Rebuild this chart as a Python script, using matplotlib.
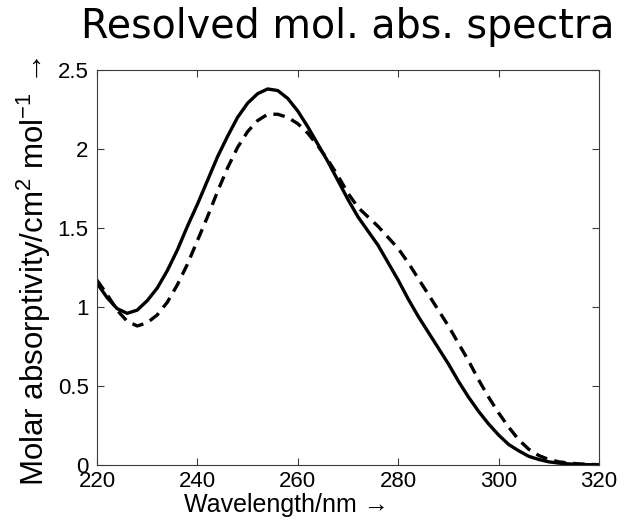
import numpy as np
import matplotlib
matplotlib.use("Agg")
import matplotlib.pyplot as plt

# wavelength grid (nm) and the two resolved spectra
wavelength = np.arange(220, 322, 2)
spec_solid = [1.15, 1.06, 0.99, 0.96, 0.98, 1.04, 1.12, 1.23, 1.36, 1.51,
              1.65, 1.80, 1.95, 2.08, 2.20, 2.29, 2.35, 2.38, 2.37, 2.32,
              2.24, 2.14, 2.03, 1.92, 1.80, 1.68, 1.57, 1.48, 1.39, 1.28,
              1.17, 1.05, 0.94, 0.84, 0.74, 0.64, 0.53, 0.43, 0.34, 0.26,
              0.19, 0.13, 0.09, 0.055, 0.035, 0.02, 0.012, 0.007, 0.004, 0.002,
              0.001]
spec_dashed = [1.17, 1.08, 0.98, 0.91, 0.88, 0.90, 0.95, 1.03, 1.14, 1.27,
               1.42, 1.57, 1.73, 1.88, 2.01, 2.11, 2.18, 2.22, 2.22, 2.20,
               2.16, 2.10, 2.02, 1.93, 1.83, 1.72, 1.63, 1.57, 1.51, 1.44,
               1.37, 1.28, 1.18, 1.08, 0.98, 0.88, 0.77, 0.66, 0.54, 0.43,
               0.33, 0.24, 0.16, 0.10, 0.06, 0.035, 0.02, 0.012, 0.007, 0.004,
               0.002]

xticks = [220, 240, 260, 280, 300, 320]
yticks = [0, 0.5, 1, 1.5, 2, 2.5]
ytick_labels = ["0", "0.5", "1", "1.5", "2", "2.5"]

plt.rcParams['font.family'] = ['Liberation Sans', 'DejaVu Sans']
plt.rcParams['mathtext.fontset'] = 'custom'
plt.rcParams['mathtext.rm'] = 'Liberation Sans'
plt.rcParams['mathtext.it'] = 'Liberation Sans:italic'

fig = plt.figure(figsize=(6.28, 5.28), dpi=100)
ax = fig.add_axes([97 / 628, 1 - 465 / 528, 502 / 628, 395 / 528])

ax.plot(wavelength, spec_solid, color='black', lw=2.4, solid_capstyle='round')
ax.plot(wavelength, spec_dashed, color='black', lw=2.4, ls=(0, (3.5, 2.2)))

ax.set_xlim(220, 320)
ax.set_ylim(0, 2.5)
ax.set_xticks(xticks)
ax.set_yticks(yticks)
ax.set_yticklabels(ytick_labels)

for sp in ax.spines.values():
    sp.set_color('#3c3c3c')
    sp.set_linewidth(0.8)
ax.tick_params(direction='in', length=5, width=0.8, color='#3c3c3c',
               top=True, right=True, labelsize=16)
ax.tick_params(axis='y', pad=6)
ax.tick_params(axis='x', pad=4)

ax.set_title("Resolved mol. abs. spectra", family='DejaVu Sans',
             fontsize=28.5, pad=23)

ax.set_xlabel("Wavelength/nm \u2192", fontsize=18)
ax.xaxis.set_label_coords(0.378, -0.072)
ax.set_ylabel("Molar absorptivity/cm$^2$ mol$^{-1}$ \u2192", fontsize=22.5)
ax.yaxis.set_label_coords(-0.088, 0.49)

fig.savefig("out.png", dpi=100)
